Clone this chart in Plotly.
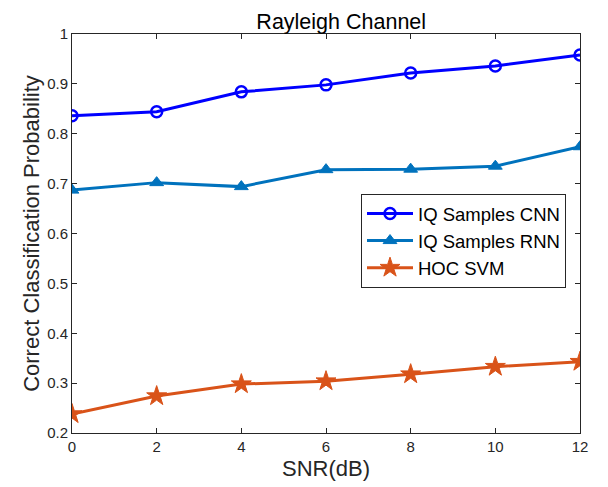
import plotly.graph_objects as go

snr = [0, 2, 4, 6, 8, 10, 12]
cnn = [0.836, 0.844, 0.884, 0.898, 0.922, 0.936, 0.958]
rnn = [0.687, 0.702, 0.694, 0.728, 0.729, 0.735, 0.774]
svm = [0.238, 0.274, 0.298, 0.304, 0.318, 0.333, 0.343]

x_ticks = [0, 2, 4, 6, 8, 10, 12]
y_ticks = [0.2, 0.3, 0.4, 0.5, 0.6, 0.7, 0.8, 0.9, 1.0]
y_labels = ["0.2", "0.3", "0.4", "0.5", "0.6", "0.7", "0.8", "0.9", "1"]

fig = go.Figure()
fig.add_trace(go.Scatter(x=snr, y=cnn, mode="lines+markers", name="IQ Samples CNN",
                         line=dict(color="#0000FF", width=3),
                         marker=dict(symbol="circle-open", size=11, color="#0000FF",
                                     line=dict(width=2.5, color="#0000FF"))))
fig.add_trace(go.Scatter(x=snr, y=rnn, mode="lines+markers", name="IQ Samples RNN",
                         line=dict(color="#0072BD", width=3),
                         marker=dict(symbol="triangle-up", size=12, color="#0072BD",
                                     line=dict(width=1, color="#0072BD"))))
fig.add_trace(go.Scatter(x=snr, y=svm, mode="lines+markers", name="HOC SVM",
                         line=dict(color="#D95319", width=3),
                         marker=dict(symbol="star", size=15, color="#D95319",
                                     line=dict(width=1, color="#D95319"))))

axis_common = dict(showgrid=False, zeroline=False, showline=True, linecolor="#262626",
                   linewidth=1, mirror="ticks", ticks="inside", ticklen=5,
                   tickcolor="#262626", tickfont=dict(size=15, color="#262626"),
                   automargin=False)

# page body has an 8px margin, so the figure is 600x479 and offset by 8px
fig.update_layout(
    width=600, height=479,
    margin=dict(l=64, r=28, t=26, b=54, autoexpand=False),
    paper_bgcolor="white", plot_bgcolor="white",
    font=dict(family="Liberation Sans, Arial, sans-serif", color="#262626"),
    title=dict(text="Rayleigh Channel", x=(64 + 572) / 2 / 600, xanchor="center",
               xref="paper", y=1 - 13 / 479, yanchor="middle",
               font=dict(size=21.5, color="black")),
    xaxis=dict(range=[0, 12], tickvals=x_ticks,
               title=dict(text="SNR(dB)", font=dict(size=22, color="#262626"), standoff=6),
               **axis_common),
    yaxis=dict(range=[0.2, 1.0], tickvals=y_ticks, ticktext=y_labels,
               title=dict(text="Correct Classification Probability",
                          font=dict(size=22, color="#262626"), standoff=1),
               **axis_common),
    legend=dict(x=(361 - 72) / 508, y=(433 - 194) / 399, xanchor="left", yanchor="top",
                bgcolor="white", bordercolor="#262626", borderwidth=1,
                font=dict(size=18.5, color="black"), tracegroupgap=0,
                itemwidth=46),
    showlegend=True,
)

fig.write_html("out.html")
